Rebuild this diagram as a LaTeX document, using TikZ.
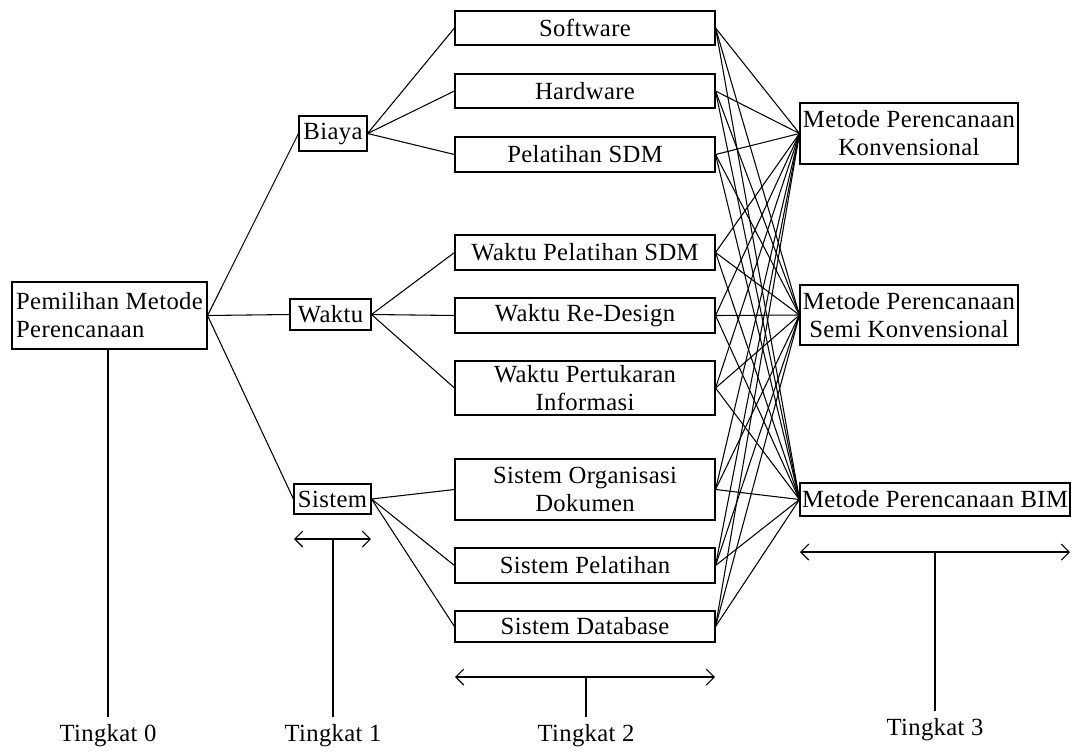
\documentclass[tikz,border=0pt]{standalone}
\usepackage{fontspec}
\setmainfont{Liberation Serif}[LetterSpace=1.5]
\usetikzlibrary{arrows.meta}
\def\u{0.75pt}
\tikzset{
  box/.style={draw, line width=0.8pt, inner sep=0pt, align=center, font=\fontsize{18.5}{21}\selectfont},
  link/.style={line width=0.8pt},
  lvl/.style={line width=0.8pt, {Straight Barb[length=6pt,width=12pt]}-{Straight Barb[length=6pt,width=12pt]}},
  lbl/.style={inner sep=0pt, font=\fontsize{18.5}{21}\selectfont}
}
\begin{document}
\begin{tikzpicture}[x=0.75pt,y=-0.75pt]
\useasboundingbox (0,0) rectangle (1072,751);
% level 0
\node[box, minimum width=195*\u, minimum height=67*\u, align=left] (root) at (109.5,315.5) {Pemilihan Metode\\Perencanaan};
% level 1
\node[box, minimum width=68*\u, minimum height=35*\u] (biaya) at (333,133.5) {Biaya};
\node[box, minimum width=81*\u, minimum height=31*\u] (waktu) at (330.5,314.5) {Waktu};
\node[box, minimum width=77*\u, minimum height=30*\u] (sistem) at (332.5,499) {Sistem};
% level 2
\node[box, minimum width=260*\u, minimum height=34*\u] (sw) at (585,28) {Software};
\node[box, minimum width=260*\u, minimum height=34*\u] (hw) at (585,91) {Hardware};
\node[box, minimum width=260*\u, minimum height=35*\u] (ps) at (585,154.5) {Pelatihan SDM};
\node[box, minimum width=260*\u, minimum height=35*\u] (wps) at (585,252.5) {Waktu Pelatihan SDM};
\node[box, minimum width=260*\u, minimum height=35*\u] (wrd) at (585,315.5) {Waktu Re-Design};
\node[box, minimum width=260*\u, minimum height=54*\u] (wpi) at (585,388) {Waktu Pertukaran\\Informasi};
\node[box, minimum width=260*\u, minimum height=61*\u] (sod) at (585,489.5) {Sistem Organisasi\\Dokumen};
\node[box, minimum width=260*\u, minimum height=35*\u] (sp) at (585,565.5) {Sistem Pelatihan};
\node[box, minimum width=260*\u, minimum height=31*\u] (sd) at (585,626.5) {Sistem Database};
% level 3
\node[box, minimum width=218*\u, minimum height=61*\u] (konv) at (909,133.5) {Metode Perencanaan\\Konvensional};
\node[box, minimum width=218*\u, minimum height=60*\u] (semi) at (909,315) {Metode Perencanaan\\Semi Konvensional};
\node[box, minimum width=270*\u, minimum height=33*\u] (bim) at (935,499.5) {Metode Perencanaan BIM};
% tree links
\foreach \t in {biaya,waktu,sistem} \draw[link] (root.east) -- (\t.west);
\foreach \t in {sw,hw,ps} \draw[link] (biaya.east) -- (\t.west);
\foreach \t in {wps,wrd,wpi} \draw[link] (waktu.east) -- (\t.west);
\foreach \t in {sod,sp,sd} \draw[link] (sistem.east) -- (\t.west);
\foreach \s in {sw,hw,ps,wps,wrd,wpi,sod,sp,sd}
  \foreach \t in {konv,semi,bim}
    \draw[link] (\s.east) -- (\t.west);
% level labels
\node[lbl] (t0) at (108,736) {Tingkat 0};
\node[lbl] (t1) at (333,736) {Tingkat 1};
\node[lbl] (t2) at (586,736) {Tingkat 2};
\node[lbl] (t3) at (935,730) {Tingkat 3};
\coordinate (a1l) at (294,539); \coordinate (a1r) at (371,539); \coordinate (a1m) at (333,539);
\coordinate (a2l) at (455,677); \coordinate (a2r) at (715,677); \coordinate (a2m) at (586,677);
\coordinate (a3l) at (800,552); \coordinate (a3r) at (1070,552); \coordinate (a3m) at (935,552);
\draw[lvl] (a1l) -- (a1r);
\draw[lvl] (a2l) -- (a2r);
\draw[lvl] (a3l) -- (a3r);
\draw[link] (root.south -| t0.north) -- ([yshift=6pt]t0.north);
\draw[link] (a1m) -- ([yshift=6pt]t1.north);
\draw[link] (a2m) -- ([yshift=6pt]t2.north);
\draw[link] (a3m) -- ([yshift=6pt]t3.north);
\end{tikzpicture}
\end{document}
